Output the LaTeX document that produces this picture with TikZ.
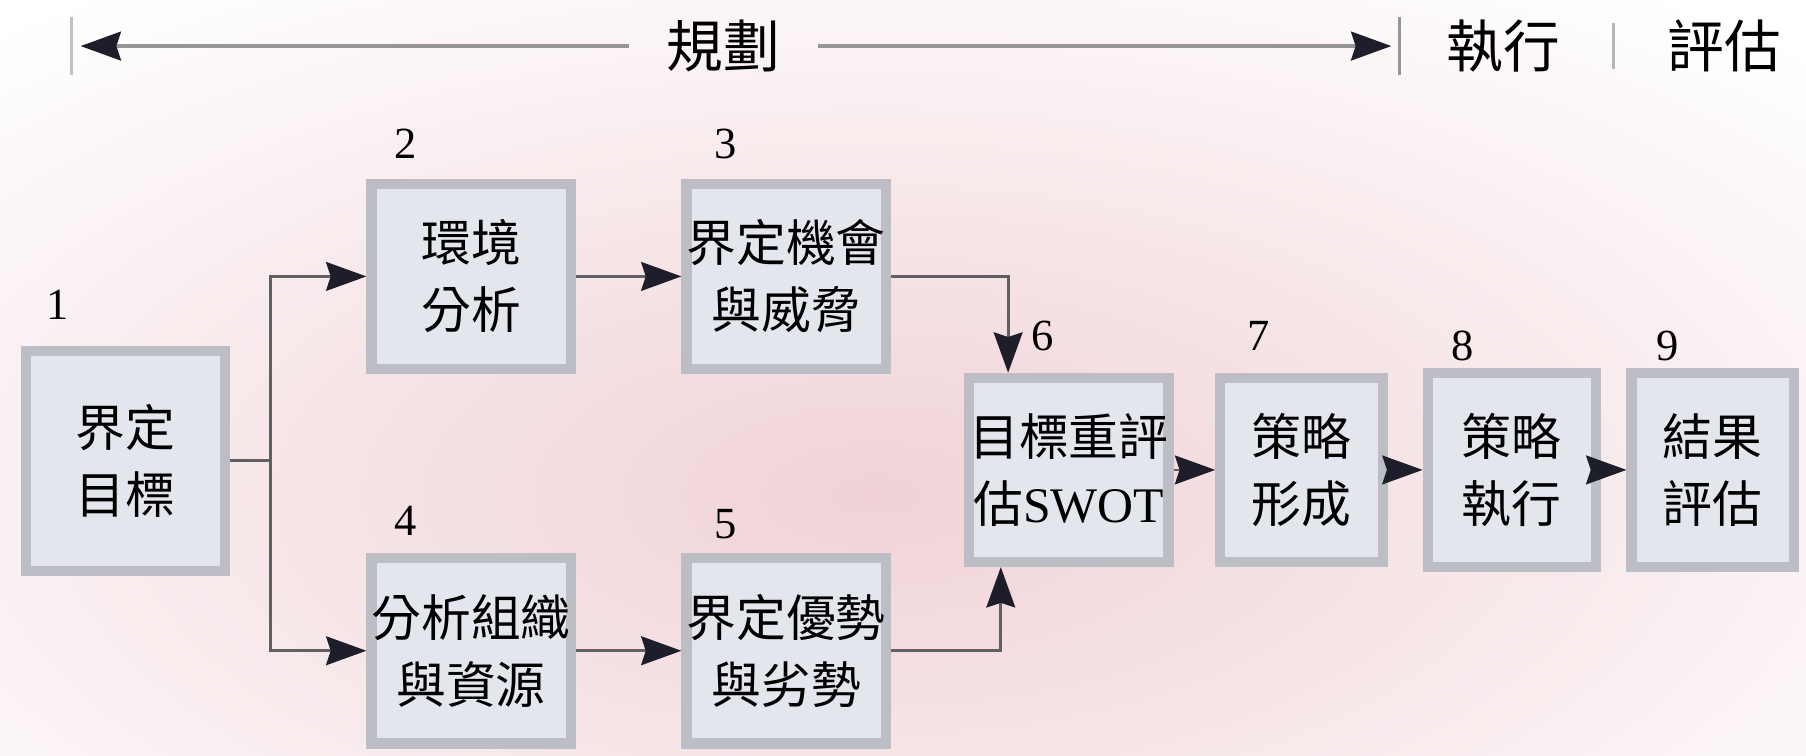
\documentclass[tikz,border=0pt]{standalone}
\usepackage{fontspec}
\setmainfont{Liberation Serif}
\newfontfamily\cjk{Noto Sans CJK TC}
\usetikzlibrary{arrows.meta}
\definecolor{boxfill}{RGB}{228,230,238}
\definecolor{boxline}{RGB}{188,189,197}
\definecolor{tipcol}{RGB}{30,30,42}
\definecolor{linecol}{RGB}{95,95,100}
\definecolor{headline}{RGB}{150,150,152}
\definecolor{bgpink}{RGB}{240,210,214}

\begin{document}
\begin{tikzpicture}
  [box/.style={rectangle,fill=boxfill,draw=boxline,line width=2.5pt,inner sep=0pt,align=center,font=\cjk\fontsize{12.3}{16.5}\selectfont},
   num/.style={font=\fontsize{11}{13}\selectfont},
   head/.style={font=\cjk\fontsize{14}{16}\selectfont},
   link/.style={draw=linecol,line width=0.7pt,-{Stealth[length=3.5mm,width=2.5mm,inset=0.4mm,color=tipcol]}}]
  \useasboundingbox (0,0) rectangle (15.68,-6.56);
  \begin{scope}
    \clip (0,0) rectangle (15.68,-6.56);
    \shade [inner color=bgpink,outer color=white] (7.6,-4.3) ellipse (11.5 and 5.4);
  \end{scope}

  % header
  \node [head,inner sep=0.32cm] (plan) at (6.28,-0.40) {規劃};
  \node [head] (exe) at (13.05,-0.40) {執行};
  \node [head] (eval) at (14.97,-0.40) {評估};
  \coordinate (lt) at (0.70,-0.40);
  \coordinate (rt) at (12.08,-0.40);
  \draw [draw=headline!60,line width=0.8pt] (0.62,-0.15) -- (0.62,-0.65);
  \draw [draw=headline,line width=0.8pt] (12.15,-0.15) -- (12.15,-0.65);
  \draw [draw=headline!70,line width=0.8pt] (14.01,-0.20) -- (14.01,-0.60);
  \draw [link,draw=headline,line width=0.9pt] (plan.west) -- (lt);
  \draw [link,draw=headline,line width=0.9pt] (plan.east) -- (rt);

  \node [box,minimum width=1.73cm,minimum height=1.91cm] (b1) at (1.09,-4.00) {界定\\目標};
  \node [box,minimum width=1.73cm,minimum height=1.61cm] (b2) at (4.09,-2.40) {環境\\分析};
  \node [box,minimum width=1.70cm,minimum height=1.61cm] (b3) at (6.825,-2.40) {界定機會\\與威脅};
  \node [box,minimum width=1.73cm,minimum height=1.61cm] (b4) at (4.09,-5.65) {分析組織\\與資源};
  \node [box,minimum width=1.70cm,minimum height=1.61cm] (b5) at (6.825,-5.65) {界定優勢\\與劣勢};
  \node [box,minimum width=1.71cm,minimum height=1.60cm] (b6) at (9.28,-4.08) {目標重評\\估{\rmfamily SWOT}};
  \node [box,minimum width=1.41cm,minimum height=1.60cm] (b7) at (11.30,-4.08) {策略\\形成};
  \node [box,minimum width=1.46cm,minimum height=1.68cm] (b8) at (13.125,-4.08) {策略\\執行};
  \node [box,minimum width=1.41cm,minimum height=1.68cm] (b9) at (14.87,-4.08) {結果\\評估};

  \node [num] (n1) at (0.50,-2.65) {1};
  \node [num] (n2) at (3.52,-1.25) {2};
  \node [num] (n3) at (6.30,-1.25) {3};
  \node [num] (n4) at (3.52,-4.52) {4};
  \node [num] (n5) at (6.30,-4.55) {5};
  \node [num] (n6) at (9.05,-2.92) {6};
  \node [num] (n7) at (10.93,-2.92) {7};
  \node [num] (n8) at (12.70,-3.00) {8};
  \node [num] (n9) at (14.48,-3.00) {9};

  \draw [link] (b1.east) -- ++(0.35,0) coordinate (split) |- (b2.west);
  \draw [link] (split) |- (b4.west);
  \draw [link] (b3.east) -| (b6.122);
  \draw [link] (b5.east) -| (b6.235);
  \foreach \from/\to in {b2/b3,b4/b5,b6/b7,b7/b8,b8/b9}
    \draw [link] (\from) -- (\to);

\end{tikzpicture}
\end{document}
